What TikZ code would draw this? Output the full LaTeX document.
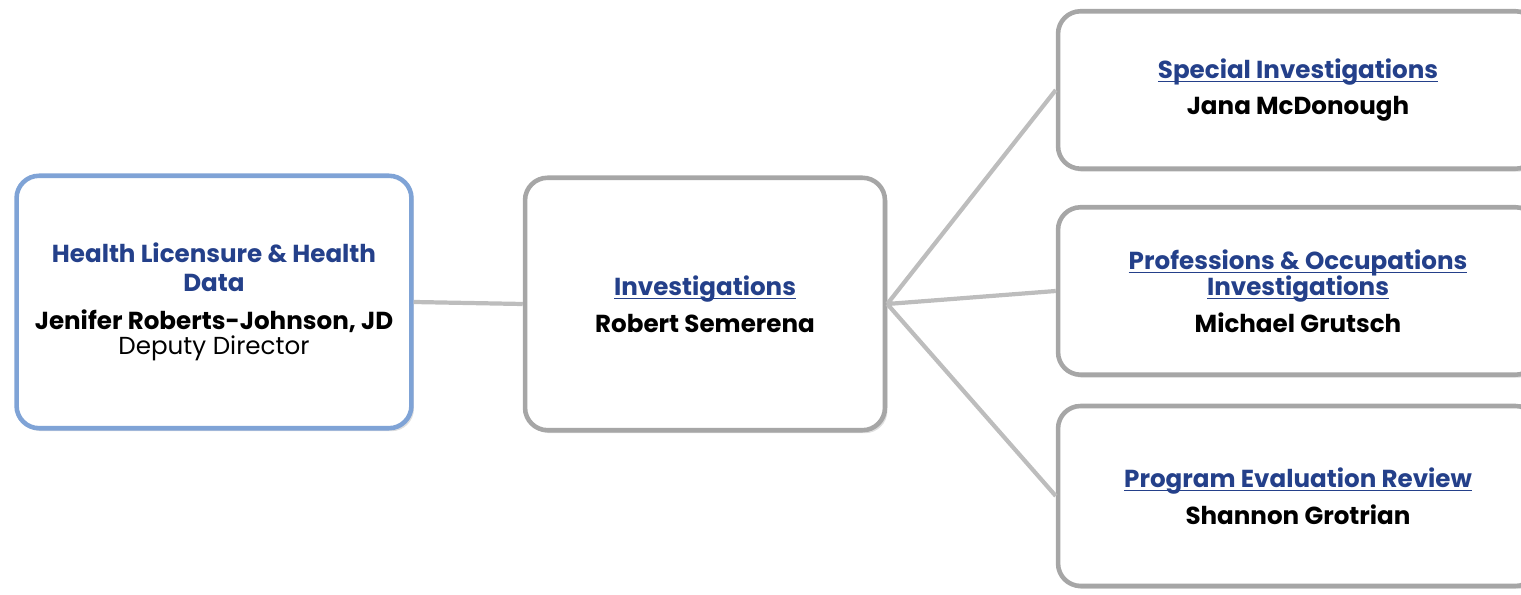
\documentclass[tikz,border=0pt]{standalone}
\usepackage{fontspec}
\setmainfont{Poppins}
\usetikzlibrary{shadows}

\definecolor{titleblue}{HTML}{24408A}
\definecolor{edgeblue}{HTML}{7FA3D6}
\definecolor{edgegray}{HTML}{A6A6A6}
\definecolor{linkgray}{HTML}{BDBDBD}

\newcommand{\pxscl}[1]{#1*0.02}
\newcommand{\orgn}{\node[orgbox]}
\newcommand{\ttl}[1]{{\color{titleblue}\bfseries #1}}
% underline sitting just under the baseline, through the descenders
\newcommand{\lnk}[1]{{\color{titleblue}\bfseries\setbox0\hbox{#1}\rlap{\rule[-2.2pt]{\wd0}{0.7pt}}\box0}}
\newcommand{\who}[1]{{\bfseries #1}}

\tikzset{
  orgbox/.style={draw=edgegray, line width=2.6pt, rounded corners=0.45cm, fill=white,
    align=center, font=\fontsize{14}{17}\selectfont,
    drop shadow={shadow xshift=0.5mm, shadow yshift=-0.6mm, opacity=0.25}},
  link/.style={draw=linkgray, line width=2.4pt}
}

\begin{document}
\begin{tikzpicture}
            \useasboundingbox (0,0) rectangle (\pxscl{1521}, -\pxscl{595});

            \orgn[draw=edgeblue, minimum width=7.9cm, minimum height=5.05cm] (hl) at (\pxscl{214}, -\pxscl{302})
                {\ttl{Health Licensure \& Health}\\[-1pt] \ttl{Data}\\[5pt] \who{Jenifer Roberts-Johnson, JD}\\[-3pt] Deputy Director};
            \orgn[minimum width=7.2cm, minimum height=5.05cm] (inv) at (\pxscl{705}, -\pxscl{304})
                {\lnk{Investigations}\\[4pt] \who{Robert Semerena}};
            \orgn[minimum width=9.6cm, minimum height=3.15cm] (spec) at (\pxscl{1298}, -\pxscl{90})
                {\lnk{Special Investigations}\\[4pt] \who{Jana McDonough}};
            \orgn[minimum width=9.6cm, minimum height=3.35cm] (prof) at (\pxscl{1298}, -\pxscl{291})
                {\lnk{Professions \& Occupations}\\[-2pt] \lnk{Investigations}\\[4pt] \who{Michael Grutsch}};
            \orgn[minimum width=9.6cm, minimum height=3.6cm] (prog) at (\pxscl{1298}, -\pxscl{496})
                {\lnk{Program Evaluation Review}\\[4pt] \who{Shannon Grotrian}};

            \path[link]
                (hl.east) -- (inv.west)
                (inv.east) -- (spec.west)
                (inv.east) -- (prof.west)
                (inv.east) -- (prog.west)
                ;
\end{tikzpicture}
\end{document}
